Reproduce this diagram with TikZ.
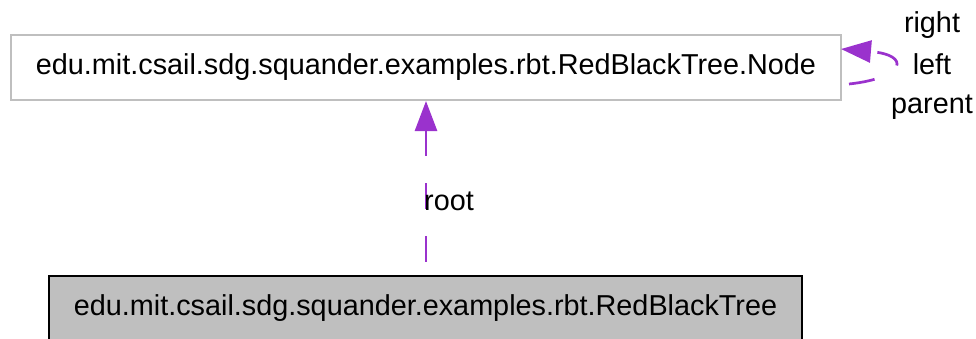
\documentclass[tikz,border=0pt]{standalone}
\usepackage{fontspec}
\setmainfont{Liberation Sans}
\usetikzlibrary{arrows.meta}
\definecolor{edgecol}{HTML}{9A32CD}
\definecolor{boxgray}{HTML}{BFBFBF}
\begin{document}
\begin{tikzpicture}[x=1pt,y=1pt,
  every node/.style={font=\fontsize{28.8}{34}\selectfont, inner sep=0pt},
  cls/.style={draw=boxgray, line width=2pt, fill=white, minimum width=830pt, minimum height=65pt},
  clsmain/.style={draw=black, line width=2pt, fill=boxgray, minimum width=753pt, minimum height=65pt},
  fieldedge/.style={draw=edgecol, line width=2.7pt, dash pattern=on 26pt off 27pt}
]
\useasboundingbox (0,0) rectangle (976,338);
\node[cls] (node) at (426,270.5) {edu.mit.csail.sdg.squander.examples.rbt.RedBlackTree.Node};
\node[clsmain] (tree) at (425.5,29.5) {edu.mit.csail.sdg.squander.examples.rbt.RedBlackTree};
\coordinate (rootend) at (node.south |- tree.north);
\draw[fieldedge, {Triangle[length=30pt,width=22pt]}-] (node.south) -- (rootend);
\node[anchor=base] (rootlbl) at (449,128) {root};
\coordinate (ls) at (849,254);
\coordinate (lt) at (841,289);
\draw[fieldedge, -{Triangle[length=30pt,width=22pt]}] (ls) .. controls (905,260) and (912,283) .. (lt);
\node (rl) at (932,313) {right};
\node (ll) at (932,274) {left};
\node (pl) at (932,231) {parent};
\end{tikzpicture}
\end{document}
